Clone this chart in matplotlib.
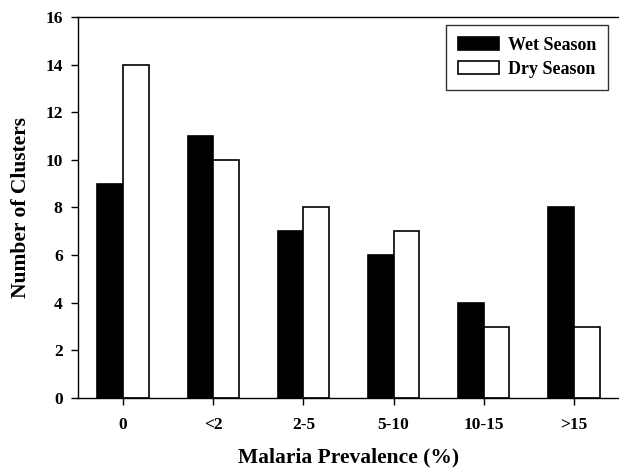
import numpy as np
import matplotlib
matplotlib.use('Agg')
import matplotlib.pyplot as plt

categories = ['0', '<2', '2-5', '5-10', '10-15', '>15']
wet = [9, 11, 7, 6, 4, 8]
dry = [14, 10, 8, 7, 3, 3]

plt.rcParams['font.family'] = ['Liberation Serif', 'DejaVu Serif']
plt.rcParams['font.weight'] = 'bold'

fig = plt.figure(figsize=(6.19, 4.69), dpi=100)
ax = fig.add_axes([0.126, 0.1514, 0.874, 0.8124])

x = np.arange(len(categories))
w = 0.285
ax.bar(x - w / 2, wet, w, color='black', edgecolor='black', linewidth=1.2, label='Wet Season')
ax.bar(x + w / 2, dry, w, color='white', edgecolor='black', linewidth=1.2, label='Dry Season')

ax.set_xlim(-0.5, 5.5)
ax.set_ylim(0, 16)
ax.set_yticks(range(0, 17, 2))
ax.set_xticks(x)
ax.set_xticklabels(categories)
ax.tick_params(direction='out', length=5, width=1, labelsize=12.5, pad=6)
ax.tick_params(axis='x', pad=9)
for lbl in ax.get_xticklabels() + ax.get_yticklabels():
    lbl.set_fontweight('bold')

ax.spines['right'].set_visible(False)
for s in ['left', 'bottom', 'top']:
    ax.spines[s].set_linewidth(1.0)

ax.set_ylabel('Number of Clusters', fontsize=15.5, fontweight='bold', labelpad=10)
ax.set_xlabel('Malaria Prevalence (%)', fontsize=15.5, fontweight='bold', labelpad=10)

leg = ax.legend(loc='upper right', bbox_to_anchor=(0.98, 0.979), fontsize=13,
                fancybox=False, framealpha=1, edgecolor='#333333',
                handlelength=2.3, handleheight=0.67, handletextpad=0.5,
                borderpad=0.65, labelspacing=0.4, borderaxespad=0)
leg.get_frame().set_linewidth(1.0)
for t in leg.get_texts():
    t.set_fontweight('bold')

fig.savefig('out.png', dpi=100)
